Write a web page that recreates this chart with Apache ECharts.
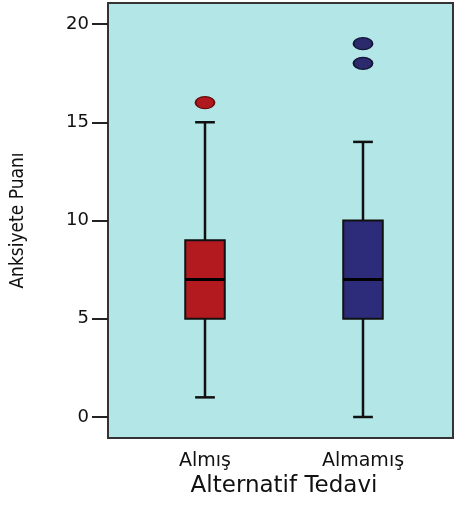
<!DOCTYPE html>
<html>
<head>
<meta charset="utf-8">
<script src="https://cdn.jsdelivr.net/npm/echarts@6/dist/echarts.min.js"></script>
<style>
  html, body { margin: 0; padding: 0; background: #fff; }
  #chart { width: 457px; height: 512px; }
</style>
</head>
<body>
<div id="chart"></div>
<script>
// groups on the x axis
const categories = ['Almış', 'Almamış'];
// box statistics per group
const lowWhisker = [1, 0];
const q1 = [5, 5];
const median = [7, 7];
const q3 = [9, 10];
const highWhisker = [15, 14];
// outliers: [group index, value]
const outliers = [[0, 16], [1, 18], [1, 19]];
const yTicks = [0, 5, 10, 15, 20];

const boxColors = ['#b21a20', '#2c2c7a'];
const outlierColors = ['#b01a1f', '#2a2a6c'];
const outlierBorders = ['#6a0c0c', '#141438'];

const boxData = categories.map((c, i) => [i, lowWhisker[i], q1[i], median[i], q3[i], highWhisker[i]]);

const renderBox = (params, api) => {
    const idx = api.value(0);
    const bandW = api.size([1, 0])[0];
    const w = bandW * 0.25;
    const low = api.coord([idx, api.value(1)]);
    const lo = api.coord([idx, api.value(2)]);
    const mid = api.coord([idx, api.value(3)]);
    const hi = api.coord([idx, api.value(4)]);
    const high = api.coord([idx, api.value(5)]);
    const x = low[0];
    const line = { stroke: '#111', lineWidth: 2.5 };
    return {
        type: 'group',
        children: [
            { type: 'line', shape: { x1: x, y1: low[1], x2: x, y2: lo[1] }, style: line },
            { type: 'line', shape: { x1: x, y1: hi[1], x2: x, y2: high[1] }, style: line },
            { type: 'line', shape: { x1: x - w / 4, y1: low[1], x2: x + w / 4, y2: low[1] }, style: line },
            { type: 'line', shape: { x1: x - w / 4, y1: high[1], x2: x + w / 4, y2: high[1] }, style: line },
            {
                type: 'rect',
                shape: { x: x - w / 2, y: hi[1], width: w, height: lo[1] - hi[1] },
                style: { fill: boxColors[idx], stroke: '#111', lineWidth: 2 }
            },
            { type: 'line', shape: { x1: x - w / 2, y1: mid[1], x2: x + w / 2, y2: mid[1] }, style: { stroke: '#000', lineWidth: 3 } }
        ]
    };
};

const tickFont = "'DejaVu Sans', sans-serif";

const option = {
    animation: false,
    backgroundColor: '#fff',
    grid: [
        {
            left: 108, right: 4, top: 3, bottom: 74,
            containLabel: false,
            outerBoundsMode: 'none',
            show: true,
            backgroundColor: '#b3e6e6',
            borderColor: '#333',
            borderWidth: 2
        },
        {
            left: 126, right: 15, top: 24, bottom: 95,
            containLabel: false,
            outerBoundsMode: 'none'
        }
    ],
    xAxis: [
        { gridIndex: 0, type: 'value', show: false },
        {
            gridIndex: 1,
            type: 'category',
            data: categories,
            offset: 21,
            axisLine: { show: false },
            axisTick: { alignWithLabel: true, length: 9, lineStyle: { color: '#111', width: 2.5 } },
            axisLabel: { color: '#111', fontFamily: tickFont, fontSize: 19, margin: 14 },
            name: 'Alternatif Tedavi',
            nameLocation: 'middle',
            nameGap: 37,
            nameMoveOverlap: false,
            nameTextStyle: { color: '#111', fontFamily: tickFont, fontSize: 23 }
        }
    ],
    yAxis: [
        { gridIndex: 0, type: 'value', show: false },
        {
            gridIndex: 1,
            type: 'value',
            min: yTicks[0],
            max: yTicks[yTicks.length - 1],
            interval: 5,
            offset: 18,
            splitLine: { show: false },
            axisLine: { show: false },
            axisTick: { show: true, length: 16, lineStyle: { color: '#222', width: 2 } },
            axisLabel: { color: '#111', fontFamily: tickFont, fontSize: 18, margin: 19 },
            name: 'Anksiyete Puanı',
            nameLocation: 'middle',
            nameRotate: 90,
            nameGap: 80,
            nameMoveOverlap: false,
            nameTextStyle: { color: '#111', fontFamily: "'Liberation Sans Narrow', 'DejaVu Sans Condensed', sans-serif", fontSize: 19 }
        }
    ],
    series: [
        {
            type: 'custom',
            xAxisIndex: 1,
            yAxisIndex: 1,
            data: boxData,
            renderItem: renderBox
        },
        {
            type: 'scatter',
            xAxisIndex: 1,
            yAxisIndex: 1,
            symbol: 'circle',
            symbolSize: [19, 12],
            data: outliers.map(o => ({
                value: o,
                itemStyle: { color: outlierColors[o[0]], borderColor: outlierBorders[o[0]], borderWidth: 1.5, opacity: 1 }
            }))
        }
    ]
};

const chart = echarts.init(document.getElementById('chart'));
chart.setOption(option);
</script>
</body>
</html>
